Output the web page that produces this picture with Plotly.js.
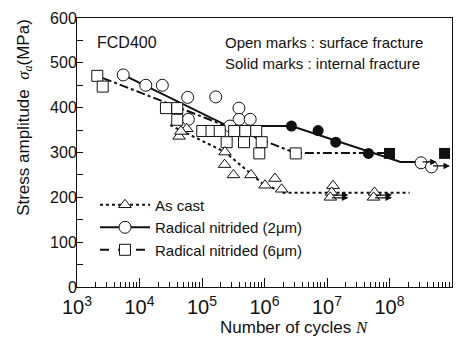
<!DOCTYPE html>
<html>
<head>
<meta charset="utf-8">
<script src="https://cdn.plot.ly/plotly-3.0.1.min.js"></script>
<style>html,body{margin:0;padding:0;background:#fff;}#chart{width:466px;height:338px;}</style>
</head>
<body>
<div id="chart"></div>
<script>
// ---- Data (number of cycles N, stress amplitude MPa) ----
// As cast (open triangles)
const triN = [43000, 57000, 46000, 233000, 230000, 319000, 608000, 1020000, 1470000, 1880000, 12500000, 11900000, 11300000, 57500000, 55500000];
const triS = [336, 353, 347, 301, 273, 250, 250, 227, 242, 218, 226, 211, 200, 211, 200];
// Radical nitrided (2um): open circles (surface fracture)
const cirN = [5500, 12600, 23200, 59000, 60400, 166000, 390000, 392000, 590000, 280000, 320000000, 470000000];
const cirS = [473, 450, 450, 423, 374, 424, 399, 374, 374, 359, 277, 268];
// Radical nitrided (2um): solid circles (internal fracture)
const cirFN = [2700000, 7200000, 13800000, 46000000];
const cirFS = [359, 349, 323, 298];
// Radical nitrided (6um): open squares
const sqN = [2110, 2580, 26500, 40200, 40200, 101000, 142000, 192000, 327000, 493000, 737000, 248000, 470000, 902000, 826000, 3160000];
const sqS = [471, 447, 399, 399, 373, 348, 348, 348, 348, 348, 348, 323, 323, 323, 298, 298];
// Radical nitrided (6um): solid squares
const sqFN = [100000000, 760000000];
const sqFS = [298, 298];
// S-N curves
const triLineN = [31000, 233000, 910000, 2000000, 210000000];
const triLineS = [361, 301, 232, 210, 210];
const cirLineN = [5500, 260000, 2700000, 150000000, 320000000];
const cirLineS = [473, 359, 359, 279, 279];
const sqLineN = [2600, 3100000, 100000000];
const sqLineS = [466, 299, 299];
// Run-outs (arrows): start N, end N, stress
const runFromN = [11900000, 11300000, 57500000, 55500000, 320000000, 470000000];
const runToN   = [22000000, 22000000, 110000000, 110000000, 570000000, 930000000];
const runS     = [205, 199, 205, 199, 279, 270];
// Legend labels
const names = ['As cast', 'Radical nitrided (2\u03bcm)', 'Radical nitrided (6\u03bcm)'];

const INK = '#111';
const FONT = 'Liberation Sans, Arial, Helvetica, sans-serif';

const openMarker = (sym, size) => ({symbol: sym, size: size, color: '#fff', line: {color: INK, width: 1}});
const traces = [
  {x: triLineN, y: triLineS, mode: 'lines', line: {color: INK, width: 2, dash: 'dot'}, showlegend: false, hoverinfo: 'skip'},
  {x: cirLineN, y: cirLineS, mode: 'lines', line: {color: INK, width: 2}, showlegend: false, hoverinfo: 'skip'},
  {x: sqLineN, y: sqLineS, mode: 'lines', line: {color: INK, width: 2, dash: 'dashdot'}, showlegend: false, hoverinfo: 'skip'},
  {x: cirN, y: cirS, mode: 'markers', marker: openMarker('circle', 12), showlegend: false},
  {x: cirFN, y: cirFS, mode: 'markers', marker: {symbol: 'circle', size: 11, color: INK}, showlegend: false},
  {x: sqN, y: sqS, mode: 'markers', marker: openMarker('square', 11), showlegend: false},
  {x: sqFN, y: sqFS, mode: 'markers', marker: {symbol: 'square', size: 11, color: INK}, showlegend: false},
  {x: triN, y: triS, mode: 'markers', marker: openMarker('triangle-up', 11), showlegend: false},
  // legend entries
  {x: [null], y: [null], name: names[0], mode: 'lines+markers', line: {color: INK, width: 2, dash: 'dot'}, marker: openMarker('triangle-up', 11)},
  {x: [null], y: [null], name: names[1], mode: 'lines+markers', line: {color: INK, width: 2}, marker: openMarker('circle', 12)},
  {x: [null], y: [null], name: names[2], mode: 'lines+markers', line: {color: INK, width: 2, dash: 'dash'}, marker: openMarker('square', 11)}
];

const annotations = [
  {xref: 'paper', yref: 'paper', x: 0.048, y: 0.908, xanchor: 'left', yanchor: 'middle', text: 'FCD400', showarrow: false, font: {size: 16, color: INK}},
  {xref: 'paper', yref: 'paper', x: 0.389, y: 0.908, xanchor: 'left', yanchor: 'middle', text: 'Open marks : surface fracture', showarrow: false, font: {size: 15, color: INK}},
  {xref: 'paper', yref: 'paper', x: 0.389, y: 0.832, xanchor: 'left', yanchor: 'middle', text: 'Solid marks : internal fracture', showarrow: false, font: {size: 15, color: INK}},
  {xref: 'paper', yref: 'paper', x: -0.139, y: 0.632, xanchor: 'center', yanchor: 'middle', textangle: -90, showarrow: false,
   text: 'Stress amplitude  <span style="font-family:Liberation Serif;font-style:italic">\u03c3<sub>a</sub></span>(MPa)', font: {size: 17, color: INK}},
  {xref: 'paper', yref: 'paper', x: 0.581, y: -0.152, xanchor: 'center', yanchor: 'middle', showarrow: false,
   text: 'Number of cycles <span style="font-family:Liberation Serif;font-style:italic">N</span>', font: {size: 17, color: INK}}
];
for (let i = 0; i < runS.length; i++) {
  annotations.push({
    xref: 'x', yref: 'y', axref: 'x', ayref: 'y',
    x: Math.log10(runToN[i]), y: runS[i], ax: Math.log10(runFromN[i]), ay: runS[i],
    showarrow: true, arrowhead: 2, arrowsize: 1, arrowwidth: 1.3, arrowcolor: INK, text: ''
  });
}

const layout = {
  width: 466, height: 338,
  margin: {l: 77, r: 14, t: 18, b: 51},
  paper_bgcolor: '#fff', plot_bgcolor: '#fff',
  font: {family: FONT, color: INK, size: 16},
  showlegend: true,
  legend: {x: 0.048, y: 0.366, xanchor: 'left', yanchor: 'top', bgcolor: 'rgba(0,0,0,0)', font: {size: 15, color: INK}, itemwidth: 50, tracegroupgap: 0},
  xaxis: {
    type: 'log', range: [3, 9], dtick: 1, exponentformat: 'power', ticklabelstandoff: 3,
    ticks: 'inside', ticklen: 9, tickwidth: 1, tickcolor: INK,
    minor: {ticks: 'inside', ticklen: 5, tickwidth: 1, tickcolor: INK, dtick: 'D1', showgrid: false},
    showline: true, mirror: true, linecolor: INK, linewidth: 1,
    showgrid: false, zeroline: false, tickfont: {size: 16, color: INK}
  },
  yaxis: {
    range: [0, 600], dtick: 100, ticklabelstandoff: -4,
    ticks: 'inside', ticklen: 6, tickwidth: 1, tickcolor: INK,
    minor: {ticks: 'inside', ticklen: 6, tickwidth: 1, tickcolor: INK, dtick: 50, showgrid: false},
    showline: true, mirror: true, linecolor: INK, linewidth: 1,
    showgrid: false, zeroline: false, tickfont: {size: 16, color: INK}
  },
  annotations: annotations
};

Plotly.newPlot('chart', traces, layout, {staticPlot: true, displayModeBar: false});
</script>
</body>
</html>
